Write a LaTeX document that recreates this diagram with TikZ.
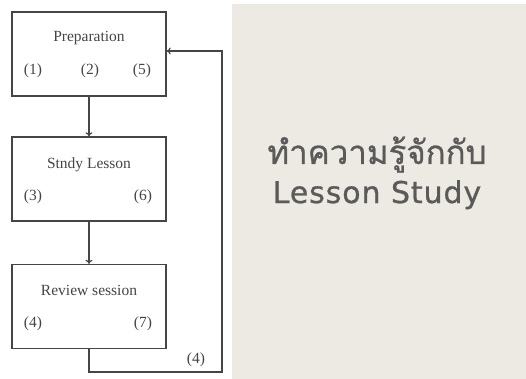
\documentclass[tikz,border=0pt]{standalone}
\usepackage{fontspec}
\setmainfont{Liberation Serif}
\newfontfamily\thaifont[Script=Thai,FakeBold=0.8]{Loma}
\newfontfamily\titlesans[LetterSpace=3,FakeBold=0.8]{DejaVu Sans}
\usetikzlibrary{arrows.meta}
\definecolor{panelbg}{HTML}{EDEAE3}
\definecolor{inkgray}{HTML}{454545}
\definecolor{titlegray}{HTML}{5A5A5A}
\tikzset{
  stage/.style={draw=inkgray, line width=1.4pt, fill=white, minimum width=154pt, minimum height=84pt},
  lbl/.style={font=\fontsize{15.5}{18}\selectfont, text=inkgray, anchor=base},
  flow/.style={draw=inkgray, line width=1.2pt, -{To[length=4pt,width=7pt]}},
  title/.style={text=titlegray, anchor=base}
}
\begin{document}
\begin{tikzpicture}[x=1pt,y=-1pt]
  \useasboundingbox (0,0) rectangle (526,379);
  \fill[white] (0,0) rectangle (526,379);
  % background panel with the title
  \fill[panelbg] (232,4) rectangle (526,379);
  \node[title, font=\thaifont\fontsize{33}{36}\selectfont] (th) at (377,164) {ทำความรู้จักกับ};
  \node[title, font=\titlesans\fontsize{30}{34}\selectfont] (en) at (377,203) {Lesson Study};

  % the three stages
  \node[stage] (prep) at (89,54) {};
  \node[stage] (study) at (89,179) {};
  \node[stage] (rev) at (89,306.5) {};

  \node[lbl] (prept) at (89,42) {Preparation};
  \node[lbl] (p1) at (33,75) {(1)};
  \node[lbl] (p2) at (90,75) {(2)};
  \node[lbl] (p5) at (142,75) {(5)};

  \node[lbl] (studyt) at (89,168) {Stndy Lesson};
  \node[lbl] (s3) at (33,200) {(3)};
  \node[lbl] (s6) at (143,200) {(6)};

  \node[lbl] (revt) at (89,295) {Review session};
  \node[lbl] (r4) at (33,327) {(4)};
  \node[lbl] (r7) at (143,327) {(7)};

  % connectors
  \draw[flow] (prep.south) -- (study.north);
  \draw[flow] (study.south) -- (rev.north);
  \coordinate (corner) at (222,372);
  \draw[flow] (rev.south) |- (corner) |- ([yshift=3pt]prep.east);
  \node[lbl] (loop4) at (196,363) {(4)};
\end{tikzpicture}
\end{document}
